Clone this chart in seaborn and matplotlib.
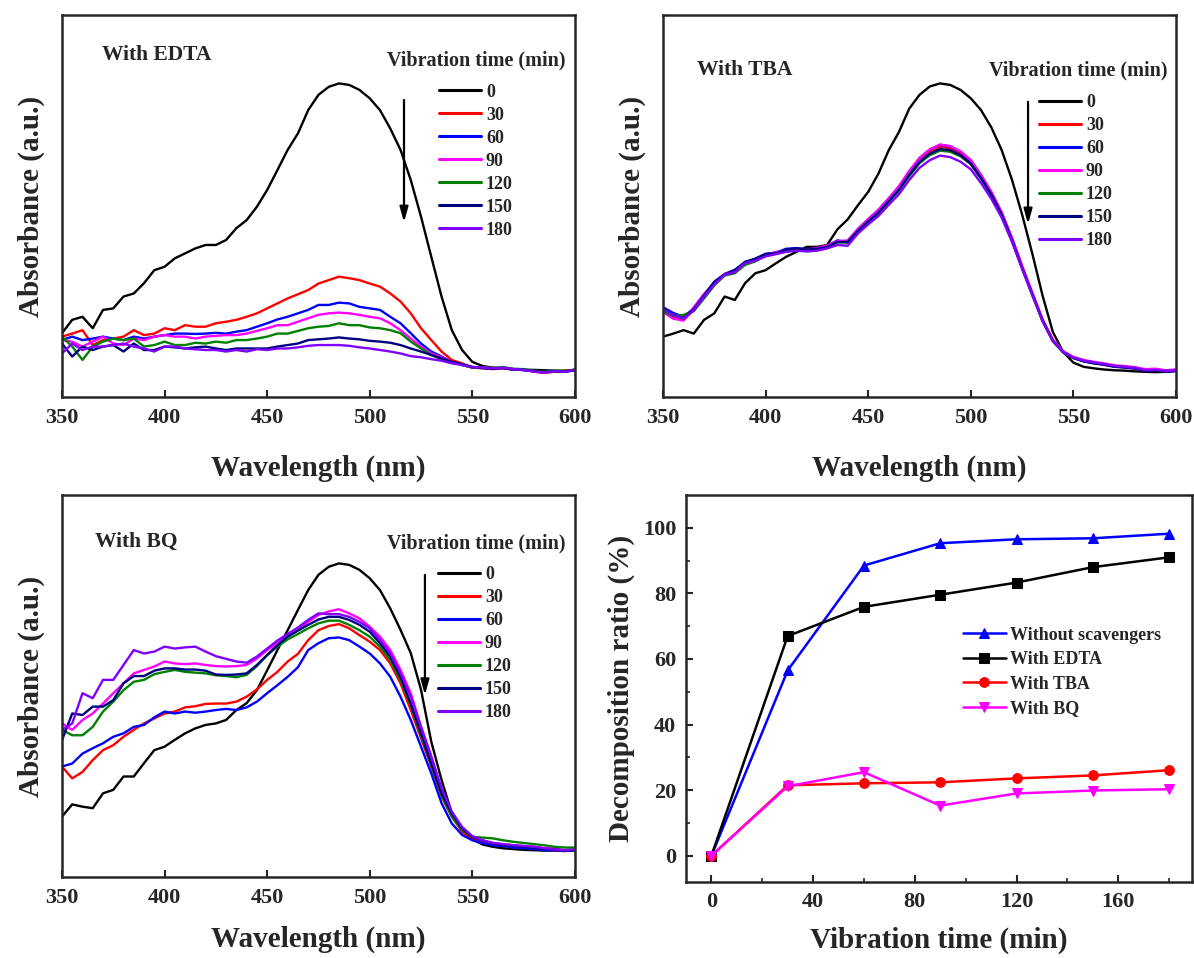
import numpy as np
import pandas as pd
import matplotlib
matplotlib.use('Agg')
import matplotlib.pyplot as plt
import seaborn as sns

sns.set_style('ticks')
plt.rcParams['font.family'] = ['Liberation Serif', 'DejaVu Serif']
plt.rcParams['font.weight'] = 'bold'
plt.rcParams['axes.labelweight'] = 'bold'
plt.rcParams['axes.linewidth'] = 1.8
plt.rcParams['xtick.direction'] = 'in'
plt.rcParams['ytick.direction'] = 'in'

# wavelength grid (nm), 5 nm steps
wavelength = np.arange(350, 601, 5)
times = ['0', '30', '60', '90', '120', '150', '180']
colors = ['#000000', '#ff0000', '#0000ff', '#ff00ff', '#008000', '#000080', '#8000ff']

# ---- With EDTA (absorbance, a.u.) ----
edta_0 = [0.167, 0.202, 0.210, 0.180, 0.228, 0.232, 0.263, 0.271, 0.298, 0.332, 0.341, 0.363, 0.376,
          0.389, 0.398, 0.398, 0.411, 0.442, 0.463, 0.498, 0.542, 0.594, 0.647, 0.690, 0.751, 0.791,
          0.812, 0.821, 0.817, 0.804, 0.782, 0.751, 0.703, 0.647, 0.568, 0.472, 0.367, 0.263, 0.175,
          0.123, 0.092, 0.081, 0.077, 0.075, 0.072, 0.071, 0.071, 0.070, 0.069, 0.069, 0.071]
edta_30 = [0.158, 0.166, 0.175, 0.136, 0.149, 0.153, 0.158, 0.175, 0.162, 0.166, 0.180, 0.175, 0.188,
           0.184, 0.184, 0.193, 0.197, 0.202, 0.210, 0.219, 0.232, 0.245, 0.258, 0.269, 0.280, 0.297,
           0.306, 0.315, 0.311, 0.306, 0.297, 0.289, 0.271, 0.250, 0.219, 0.180, 0.149, 0.119, 0.097,
           0.088, 0.077, 0.075, 0.073, 0.075, 0.072, 0.071, 0.066, 0.063, 0.066, 0.068, 0.071]
edta_60 = [0.149, 0.158, 0.149, 0.153, 0.158, 0.153, 0.149, 0.158, 0.153, 0.158, 0.162, 0.166, 0.166,
           0.165, 0.166, 0.168, 0.166, 0.171, 0.175, 0.184, 0.193, 0.203, 0.210, 0.219, 0.228, 0.241,
           0.241, 0.247, 0.245, 0.236, 0.232, 0.228, 0.210, 0.193, 0.167, 0.140, 0.119, 0.106, 0.092,
           0.084, 0.077, 0.076, 0.074, 0.077, 0.073, 0.070, 0.069, 0.065, 0.068, 0.067, 0.070]
edta_90 = [0.149, 0.145, 0.132, 0.145, 0.158, 0.140, 0.136, 0.153, 0.149, 0.158, 0.162, 0.158, 0.158,
           0.153, 0.158, 0.160, 0.162, 0.162, 0.166, 0.173, 0.180, 0.188, 0.188, 0.197, 0.206, 0.215,
           0.219, 0.221, 0.219, 0.215, 0.210, 0.206, 0.193, 0.175, 0.153, 0.132, 0.114, 0.104, 0.092,
           0.084, 0.077, 0.078, 0.075, 0.076, 0.072, 0.072, 0.067, 0.064, 0.067, 0.066, 0.071]
edta_120 = [0.158, 0.132, 0.097, 0.132, 0.145, 0.153, 0.149, 0.153, 0.132, 0.136, 0.145, 0.136, 0.136,
            0.142, 0.140, 0.145, 0.142, 0.149, 0.149, 0.153, 0.158, 0.166, 0.166, 0.173, 0.180, 0.184,
            0.186, 0.193, 0.188, 0.188, 0.182, 0.180, 0.175, 0.167, 0.145, 0.127, 0.110, 0.099, 0.090,
            0.084, 0.077, 0.077, 0.076, 0.078, 0.074, 0.073, 0.069, 0.066, 0.069, 0.067, 0.072]
edta_150 = [0.140, 0.106, 0.132, 0.123, 0.132, 0.136, 0.119, 0.140, 0.123, 0.123, 0.132, 0.130, 0.127,
            0.130, 0.132, 0.127, 0.123, 0.127, 0.127, 0.127, 0.127, 0.132, 0.136, 0.140, 0.149, 0.151,
            0.153, 0.156, 0.153, 0.151, 0.147, 0.145, 0.142, 0.136, 0.127, 0.119, 0.110, 0.101, 0.092,
            0.086, 0.079, 0.076, 0.074, 0.076, 0.072, 0.071, 0.068, 0.065, 0.067, 0.066, 0.070]
edta_180 = [0.114, 0.140, 0.123, 0.132, 0.132, 0.136, 0.140, 0.132, 0.127, 0.119, 0.132, 0.132, 0.127,
            0.125, 0.123, 0.123, 0.119, 0.123, 0.119, 0.125, 0.123, 0.127, 0.127, 0.130, 0.134, 0.136,
            0.136, 0.136, 0.134, 0.130, 0.127, 0.123, 0.119, 0.114, 0.107, 0.104, 0.099, 0.095, 0.088,
            0.084, 0.078, 0.077, 0.075, 0.077, 0.073, 0.071, 0.067, 0.064, 0.068, 0.066, 0.071]

# ---- With TBA ----
tba_0 = [0.158, 0.166, 0.175, 0.166, 0.202, 0.219, 0.263, 0.254, 0.298, 0.324, 0.332, 0.350, 0.367,
         0.380, 0.393, 0.393, 0.398, 0.439, 0.465, 0.502, 0.537, 0.585, 0.646, 0.694, 0.755, 0.791,
         0.813, 0.821, 0.817, 0.804, 0.782, 0.751, 0.706, 0.647, 0.570, 0.478, 0.375, 0.265, 0.170,
         0.118, 0.090, 0.079, 0.075, 0.072, 0.070, 0.069, 0.067, 0.066, 0.065, 0.066, 0.068]
tba_30 = [0.228, 0.210, 0.202, 0.228, 0.263, 0.298, 0.319, 0.328, 0.350, 0.359, 0.372, 0.378, 0.385,
          0.387, 0.385, 0.387, 0.394, 0.407, 0.407, 0.437, 0.462, 0.485, 0.516, 0.546, 0.586, 0.620,
          0.642, 0.655, 0.651, 0.638, 0.616, 0.577, 0.533, 0.481, 0.415, 0.341, 0.271, 0.202, 0.149,
          0.119, 0.104, 0.095, 0.090, 0.086, 0.081, 0.079, 0.077, 0.071, 0.072, 0.069, 0.071]
tba_60 = [0.235, 0.220, 0.210, 0.232, 0.268, 0.300, 0.322, 0.333, 0.352, 0.362, 0.375, 0.378, 0.388,
          0.390, 0.387, 0.389, 0.396, 0.410, 0.405, 0.440, 0.465, 0.490, 0.520, 0.551, 0.590, 0.625,
          0.648, 0.660, 0.656, 0.642, 0.620, 0.581, 0.536, 0.483, 0.416, 0.341, 0.270, 0.200, 0.147,
          0.118, 0.104, 0.094, 0.089, 0.086, 0.080, 0.078, 0.076, 0.070, 0.071, 0.068, 0.070]
tba_90 = [0.222, 0.205, 0.200, 0.235, 0.270, 0.296, 0.322, 0.330, 0.348, 0.360, 0.370, 0.380, 0.383,
          0.388, 0.386, 0.390, 0.397, 0.408, 0.410, 0.440, 0.466, 0.490, 0.520, 0.552, 0.592, 0.626,
          0.648, 0.661, 0.657, 0.643, 0.620, 0.581, 0.537, 0.484, 0.418, 0.344, 0.273, 0.203, 0.150,
          0.120, 0.105, 0.097, 0.092, 0.088, 0.083, 0.081, 0.078, 0.073, 0.074, 0.070, 0.072]
tba_120 = [0.225, 0.212, 0.215, 0.225, 0.258, 0.292, 0.318, 0.324, 0.346, 0.355, 0.370, 0.375, 0.382,
           0.385, 0.384, 0.386, 0.392, 0.405, 0.404, 0.433, 0.458, 0.480, 0.510, 0.540, 0.578, 0.612,
           0.633, 0.645, 0.642, 0.630, 0.609, 0.571, 0.528, 0.476, 0.410, 0.336, 0.266, 0.198, 0.146,
           0.117, 0.102, 0.094, 0.090, 0.085, 0.080, 0.078, 0.075, 0.069, 0.070, 0.067, 0.069]
tba_150 = [0.232, 0.215, 0.205, 0.230, 0.266, 0.302, 0.321, 0.332, 0.354, 0.362, 0.374, 0.376, 0.386,
           0.389, 0.386, 0.388, 0.393, 0.406, 0.406, 0.435, 0.460, 0.483, 0.513, 0.543, 0.582, 0.615,
           0.637, 0.649, 0.646, 0.633, 0.611, 0.573, 0.530, 0.478, 0.412, 0.338, 0.268, 0.200, 0.147,
           0.117, 0.102, 0.093, 0.088, 0.084, 0.079, 0.077, 0.074, 0.068, 0.069, 0.066, 0.068]
tba_180 = [0.230, 0.214, 0.206, 0.226, 0.262, 0.295, 0.320, 0.327, 0.350, 0.357, 0.368, 0.374, 0.380,
           0.383, 0.381, 0.383, 0.389, 0.398, 0.396, 0.428, 0.452, 0.474, 0.503, 0.531, 0.568, 0.600,
           0.620, 0.632, 0.628, 0.616, 0.596, 0.560, 0.519, 0.470, 0.407, 0.336, 0.267, 0.199, 0.147,
           0.118, 0.103, 0.095, 0.091, 0.086, 0.081, 0.079, 0.076, 0.070, 0.071, 0.068, 0.070]

# ---- With BQ ----
bq_0 = [0.158, 0.190, 0.184, 0.180, 0.219, 0.228, 0.263, 0.263, 0.298, 0.332, 0.341, 0.359, 0.376,
        0.389, 0.398, 0.402, 0.411, 0.437, 0.455, 0.489, 0.541, 0.594, 0.646, 0.699, 0.751, 0.791,
        0.812, 0.821, 0.817, 0.804, 0.782, 0.751, 0.703, 0.647, 0.586, 0.490, 0.354, 0.254, 0.167,
        0.119, 0.099, 0.085, 0.079, 0.075, 0.073, 0.071, 0.070, 0.069, 0.069, 0.068, 0.070]
bq_30 = [0.289, 0.258, 0.275, 0.306, 0.332, 0.345, 0.367, 0.385, 0.402, 0.415, 0.428, 0.433, 0.444,
         0.447, 0.453, 0.454, 0.454, 0.459, 0.472, 0.491, 0.516, 0.537, 0.564, 0.584, 0.620, 0.646,
         0.657, 0.662, 0.651, 0.633, 0.616, 0.594, 0.559, 0.507, 0.437, 0.363, 0.289, 0.210, 0.158,
         0.118, 0.101, 0.092, 0.088, 0.083, 0.081, 0.079, 0.075, 0.073, 0.070, 0.069, 0.070]
bq_60 = [0.289, 0.297, 0.323, 0.337, 0.350, 0.367, 0.376, 0.393, 0.398, 0.418, 0.433, 0.428, 0.433,
         0.430, 0.433, 0.437, 0.440, 0.437, 0.444, 0.459, 0.481, 0.502, 0.524, 0.549, 0.594, 0.612,
         0.625, 0.627, 0.620, 0.603, 0.585, 0.559, 0.524, 0.472, 0.411, 0.341, 0.271, 0.193, 0.140,
         0.110, 0.096, 0.088, 0.083, 0.081, 0.077, 0.075, 0.073, 0.070, 0.070, 0.068, 0.070]
bq_90 = [0.402, 0.385, 0.411, 0.428, 0.454, 0.481, 0.507, 0.533, 0.542, 0.551, 0.564, 0.559, 0.557,
         0.559, 0.555, 0.552, 0.551, 0.552, 0.555, 0.572, 0.594, 0.612, 0.631, 0.646, 0.668, 0.686,
         0.695, 0.701, 0.690, 0.677, 0.655, 0.629, 0.594, 0.542, 0.481, 0.393, 0.315, 0.228, 0.166,
         0.127, 0.105, 0.096, 0.089, 0.086, 0.083, 0.081, 0.079, 0.076, 0.075, 0.070, 0.073]
bq_120 = [0.385, 0.371, 0.371, 0.393, 0.433, 0.459, 0.489, 0.511, 0.516, 0.531, 0.537, 0.542, 0.537,
          0.535, 0.533, 0.528, 0.526, 0.523, 0.529, 0.552, 0.581, 0.603, 0.622, 0.636, 0.651, 0.664,
          0.671, 0.671, 0.660, 0.646, 0.629, 0.603, 0.568, 0.516, 0.450, 0.371, 0.293, 0.214, 0.158,
          0.123, 0.105, 0.103, 0.101, 0.096, 0.092, 0.089, 0.086, 0.083, 0.079, 0.077, 0.077]
bq_150 = [0.358, 0.428, 0.424, 0.446, 0.446, 0.463, 0.507, 0.526, 0.526, 0.540, 0.546, 0.546, 0.543,
          0.543, 0.540, 0.530, 0.529, 0.530, 0.533, 0.555, 0.581, 0.607, 0.629, 0.645, 0.660, 0.674,
          0.681, 0.681, 0.673, 0.660, 0.642, 0.612, 0.577, 0.524, 0.454, 0.376, 0.297, 0.219, 0.166,
          0.127, 0.105, 0.095, 0.088, 0.083, 0.081, 0.079, 0.076, 0.073, 0.072, 0.069, 0.070]
bq_180 = [0.385, 0.402, 0.481, 0.468, 0.516, 0.516, 0.555, 0.594, 0.585, 0.590, 0.603, 0.598, 0.601,
          0.603, 0.590, 0.578, 0.571, 0.564, 0.561, 0.577, 0.598, 0.619, 0.636, 0.653, 0.673, 0.690,
          0.688, 0.688, 0.681, 0.668, 0.651, 0.620, 0.585, 0.533, 0.472, 0.393, 0.315, 0.232, 0.171,
          0.131, 0.107, 0.096, 0.089, 0.086, 0.083, 0.081, 0.079, 0.075, 0.072, 0.070, 0.072]

# ---- decomposition ratio (%) vs vibration time (min) ----
vib_time = [0, 30, 60, 90, 120, 150, 180]
ratio_none = [0, 56.5, 88.5, 95.3, 96.5, 96.8, 98.2]
ratio_edta = [0, 67.0, 75.9, 79.6, 83.3, 88.0, 91.0]
ratio_tba = [0, 21.5, 22.1, 22.4, 23.6, 24.5, 26.1]
ratio_bq = [0, 21.2, 25.5, 15.3, 19.0, 19.9, 20.3]


def spectra_frame(curves):
    parts = []
    for t, vals in zip(times, curves):
        parts.append(pd.DataFrame({'wl': wavelength, 'abs': vals, 'time': t}))
    return pd.concat(parts, ignore_index=True)


def spectra_panel(ax, curves, name, name_xy, title_xy, leg_xy, arrow_x, arrow_y, xpad=19):
    df = spectra_frame(curves)
    sns.lineplot(data=df, x='wl', y='abs', hue='time', hue_order=times, palette=colors,
                 estimator=None, sort=False, lw=1.7, ax=ax)
    handles, labels = ax.get_legend_handles_labels()
    for h in handles:
        h.set_linewidth(2.2)
    ax.legend(handles, labels, loc='upper left', bbox_to_anchor=leg_xy, frameon=False,
              fontsize=13, handlelength=2.35, handletextpad=0.25, labelspacing=0.33,
              borderpad=0, borderaxespad=0)
    ax.text(*name_xy, name, transform=ax.transAxes, fontsize=15.5, fontweight='bold',
            ha='left', va='center')
    ax.text(*title_xy, 'Vibration time (min)', transform=ax.transAxes, fontsize=14.5,
            fontweight='bold', ha='right', va='center')
    ax.annotate('', xy=(arrow_x, arrow_y[1]), xytext=(arrow_x, arrow_y[0]),
                xycoords=('data', 'axes fraction'), textcoords=('data', 'axes fraction'),
                arrowprops=dict(arrowstyle='-|>,head_length=0.9,head_width=0.25', color='black', lw=1.6))
    ax.set_xlim(350, 600)
    ax.set_ylim(0, 1)
    ax.set_xticks([350, 400, 450, 500, 550, 600])
    ax.set_yticks([])
    ax.tick_params(axis='x', length=5, width=1.5, labelsize=16, pad=8)
    ax.set_xlabel('Wavelength (nm)', fontsize=21, labelpad=xpad)
    ax.set_ylabel('Absorbance (a.u.)', fontsize=21, labelpad=12)


fig = plt.figure(figsize=(11.94, 9.58), dpi=100)
ax1 = fig.add_axes([0.0519, 0.5856, 0.4296, 0.3987])
ax2 = fig.add_axes([0.5553, 0.5856, 0.4296, 0.3987])
ax3 = fig.add_axes([0.0519, 0.0846, 0.4296, 0.3987])
ax4 = fig.add_axes([0.5745, 0.0793, 0.4238, 0.4040])

spectra_panel(ax1, [edta_0, edta_30, edta_60, edta_90, edta_120, edta_150, edta_180],
              'With EDTA', (0.078, 0.895), (0.982, 0.882), (0.735, 0.820), 516.7, (0.785, 0.450))
spectra_panel(ax2, [tba_0, tba_30, tba_60, tba_90, tba_120, tba_150, tba_180],
              'With TBA', (0.066, 0.856), (0.984, 0.856), (0.733, 0.793), 527.9, (0.780, 0.445))
spectra_panel(ax3, [bq_0, bq_30, bq_60, bq_90, bq_120, bq_150, bq_180],
              'With BQ', (0.065, 0.878), (0.982, 0.874), (0.733, 0.813), 526.9, (0.798, 0.469),
              xpad=13)

# decomposition ratio panel
series = [('Without scavengers', ratio_none, '#0000ff', '^'),
          ('With EDTA', ratio_edta, '#000000', 's'),
          ('With TBA', ratio_tba, '#ff0000', 'o'),
          ('With BQ', ratio_bq, '#ff00ff', 'v')]
for label, vals, col, mk in series:
    sns.lineplot(x=vib_time, y=vals, color=col, marker=mk, markersize=7, markeredgecolor=col,
                 lw=1.8, label=label, ax=ax4)
ax4.legend(loc='upper left', bbox_to_anchor=(0.547, 0.660), frameon=False, fontsize=13,
           handlelength=2.4, handletextpad=0.2, labelspacing=0.42, borderpad=0, borderaxespad=0)
ax4.set_xlim(-10, 189)
ax4.set_ylim(-8, 110)
ax4.set_xticks([0, 40, 80, 120, 160])
ax4.set_xticks([20, 60, 100, 140, 180], minor=True)
ax4.set_yticks([0, 20, 40, 60, 80, 100])
ax4.set_yticks([10, 30, 50, 70, 90], minor=True)
ax4.tick_params(which='major', length=5, width=1.5, labelsize=16, pad=7)
ax4.tick_params(which='minor', length=3, width=1.2)
ax4.set_xlabel('Vibration time (min)', fontsize=21, labelpad=11)
ax4.set_ylabel('Decomposition ratio (%)', fontsize=21, labelpad=6)

fig.savefig('out.png', dpi=100)
